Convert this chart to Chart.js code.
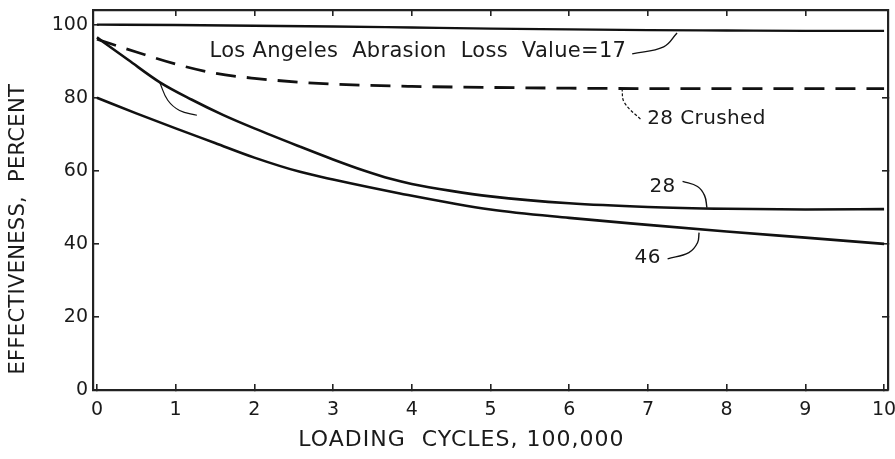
<!DOCTYPE html>
<html>
<head>
<meta charset="utf-8">
<script src="https://cdn.jsdelivr.net/npm/chart.js@4.4.1/dist/chart.umd.min.js"></script>
<style>
  html, body { margin: 0; padding: 0; background: #ffffff; }
  #wrap { width: 895px; height: 459px; position: relative; }
</style>
</head>
<body>
<div id="wrap"><canvas id="c" width="895" height="459"></canvas></div>
<script>
// ---- data ----
const xTicks = [0, 1, 2, 3, 4, 5, 6, 7, 8, 9, 10];
const xTickLabels = ["0", "1", "2", "3", "4", "5", "6", "7", "8", "9", "10"];
const yTicks = [0, 20, 40, 60, 80, 100];
const yTickLabels = ["0", "20", "40", "60", "80", "100"];

// Los Angeles Abrasion Loss Value = 17
const la17X = [0, 1, 2, 3, 4, 5, 6, 7, 8, 9, 10];
const la17Y = [100, 99.9, 99.7, 99.5, 99.2, 98.9, 98.7, 98.5, 98.4, 98.3, 98.3];

// 28 Crushed (dashed)
const crushedX = [0, 0.5, 1, 1.5, 2, 2.6, 3, 4, 5, 6, 7, 8, 9, 10];
const crushedY = [96, 92.5, 89.2, 86.7, 85.3, 84.2, 83.7, 83.1, 82.8, 82.6, 82.5, 82.5, 82.5, 82.5];

// 28
const s28X = [0, 0.4, 0.8, 1.2, 1.6, 2, 2.58, 3, 3.4, 3.73, 4, 4.5, 5, 6, 7, 8, 9, 10];
const s28Y = [96.5, 90.3, 84.2, 79.5, 75.3, 71.6, 66.6, 63.1, 60, 57.8, 56.4, 54.5, 53, 51.1, 50.1, 49.6, 49.4, 49.5];

// 46
const s46X = [0, 0.5, 1, 1.5, 2, 2.58, 3, 3.85, 5, 6, 7, 8, 9, 10];
const s46Y = [80, 75.7, 71.6, 67.6, 63.6, 59.7, 57.6, 53.8, 49.4, 47.1, 45.2, 43.4, 41.7, 40.0];

// leader lines (data coordinates)
const leadLAX = [6.8, 7.2, 7.37];
const leadLAY = [92.0, 93.9, 97.7];
const leadCrX = [6.67, 6.70, 6.92];
const leadCrY = [82.6, 78.7, 73.8];
const lead28X = [7.44, 7.63, 7.72, 7.75];
const lead28Y = [57.1, 55.7, 53.2, 49.9];
const lead46X = [7.25, 7.52, 7.63, 7.65];
const lead46Y = [35.9, 37.6, 40.3, 43.1];
const leadLeftX = [0.80, 0.90, 1.05, 1.27];
const leadLeftY = [84.0, 79.3, 76.5, 75.2];

// texts
const annTexts = ["Los Angeles  Abrasion  Loss  Value=17", "28 Crushed", "28", "46"];
const annAtX = [1.43, 6.99, 7.02, 6.83];
const annAtY = [92.5, 74.3, 55.7, 36.2];
const xTitle = "LOADING  CYCLES, 100,000";
const yTitle = "EFFECTIVENESS,  PERCENT";

// ---- build ----
const pts = (xs, ys) => xs.map((x, i) => ({ x: x, y: ys[i] }));
const INK = '#111111';
const FONT = '"DejaVu Sans", sans-serif';

function curve(xs, ys, extra) {
  return Object.assign({
    data: pts(xs, ys),
    borderColor: INK,
    borderWidth: 2.6,
    pointRadius: 0,
    fill: false,
    tension: 0.4,
    cubicInterpolationMode: 'monotone'
  }, extra || {});
}

const datasets = [
  curve(la17X, la17Y, { borderWidth: 2.4 }),
  curve(crushedX, crushedY, { borderDash: [20, 11], borderWidth: 2.8 }),
  curve(s28X, s28Y),
  curve(s46X, s46Y),
  curve(leadLAX, leadLAY, { borderWidth: 1.4, cubicInterpolationMode: 'default' }),
  curve(leadCrX, leadCrY, { borderWidth: 1.2, borderDash: [3, 2], cubicInterpolationMode: 'default' }),
  curve(lead28X, lead28Y, { borderWidth: 1.4, cubicInterpolationMode: 'default' }),
  curve(lead46X, lead46Y, { borderWidth: 1.4, cubicInterpolationMode: 'default' }),
  curve(leadLeftX, leadLeftY, { borderWidth: 1.2, cubicInterpolationMode: 'default' })
];

const textPlugin = {
  id: 'texts',
  afterDraw(chart) {
    const ctx = chart.ctx;
    const xs = chart.scales.x, ys = chart.scales.y;
    ctx.save();
    ctx.fillStyle = '#1a1a1a';
    ctx.textBaseline = 'middle';
    ctx.textAlign = 'left';
    annTexts.forEach((t, i) => {
      ctx.font = (i === 0 ? '21px ' : '20px ') + FONT;
      ctx.letterSpacing = i === 0 ? '0.3px' : '0.4px';
      ctx.fillText(t, xs.getPixelForValue(annAtX[i]), ys.getPixelForValue(annAtY[i]));
    });
    // axis titles
    ctx.font = '22px ' + FONT;
    ctx.letterSpacing = '1px';
    ctx.textAlign = 'center';
    ctx.fillText(xTitle, xs.getPixelForValue(4.63), chart.chartArea.bottom + 50);
    ctx.save();
    ctx.font = '21px ' + FONT;
    ctx.letterSpacing = '0.3px';
    ctx.translate(19, ys.getPixelForValue(44));
    ctx.rotate(-Math.PI / 2);
    ctx.fillText(yTitle, 0, 0);
    ctx.restore();
    ctx.restore();
  }
};

const gridOpts = { display: true, drawOnChartArea: false, drawTicks: true, tickLength: -6, color: '#222222', lineWidth: 1.6 };
const borderOpts = { display: true, color: '#222222', width: 2.2 };
const noPad = s => { s.paddingLeft = 0; s.paddingRight = 0; s.paddingTop = 0; s.paddingBottom = 0; };

new Chart(document.getElementById('c'), {
  type: 'line',
  data: { datasets: datasets },
  plugins: [textPlugin],
  options: {
    responsive: false,
    animation: false,
    events: [],
    layout: { padding: 0 },
    plugins: { legend: { display: false }, tooltip: { enabled: false } },
    scales: {
      x: {
        type: 'linear', position: 'bottom', min: -0.05, max: 10.05,
        grid: gridOpts, border: borderOpts,
        afterBuildTicks: s => { s.ticks = xTicks.map(v => ({ value: v })); },
        ticks: { color: '#1a1a1a', font: { family: FONT, size: 19 }, padding: 15, maxRotation: 0,
                 callback: (v) => xTickLabels[xTicks.indexOf(v)] },
        afterFit: s => { s.height = 69; noPad(s); }
      },
      x2: {
        type: 'linear', position: 'top', min: -0.05, max: 10.05,
        grid: gridOpts, border: borderOpts,
        afterBuildTicks: s => { s.ticks = xTicks.slice(1, 10).map(v => ({ value: v })); },
        ticks: { display: false },
        afterFit: s => { s.height = 10; noPad(s); }
      },
      y: {
        type: 'linear', position: 'left', min: 0, max: 104,
        grid: gridOpts, border: borderOpts,
        afterBuildTicks: s => { s.ticks = yTicks.map(v => ({ value: v })); },
        ticks: { color: '#1a1a1a', font: { family: FONT, size: 19 }, padding: 11,
                 callback: (v) => yTickLabels[yTicks.indexOf(v)] },
        afterFit: s => { s.width = 93; noPad(s); }
      },
      y2: {
        type: 'linear', position: 'right', min: 0, max: 104,
        grid: gridOpts, border: borderOpts,
        afterBuildTicks: s => { s.ticks = yTicks.slice(1, 5).map(v => ({ value: v })); },
        ticks: { display: false },
        afterFit: s => { s.width = 7; noPad(s); }
      }
    }
  }
});
</script>
</body>
</html>
